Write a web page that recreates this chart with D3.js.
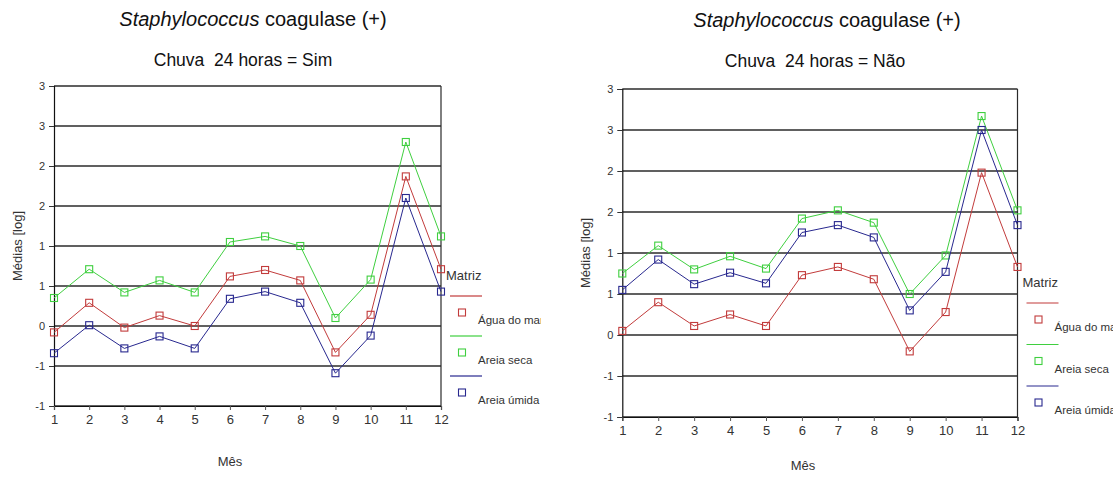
<!DOCTYPE html>
<html>
<head>
<meta charset="utf-8">
<script src="https://cdn.jsdelivr.net/npm/d3@7"></script>
<style>
  html, body { margin: 0; padding: 0; background: #fff; }
  svg { display: block; font-family: "Liberation Sans", Arial, sans-serif; }
</style>
</head>
<body>
<svg id="chart" width="1113" height="480"></svg>
<script>
// Months on the x axis
const months = [1, 2, 3, 4, 5, 6, 7, 8, 9, 10, 11, 12];
// Matrix series (legend order)
const seriesNames = ["Água do mar", "Areia seca", "Areia úmida"];
const seriesColors = ["#c23b3b", "#3fcf3f", "#28288f"];
// Y-axis tick values (log means)
const yTicks = [-1, -0.5, 0, 0.5, 1, 1.5, 2, 2.5, 3];

// Chuva 24 horas = Sim
const simAgua  = [-0.08, 0.29, -0.02, 0.13, 0.00, 0.62, 0.70, 0.57, -0.33, 0.14, 1.87, 0.71];
const simSeca  = [0.35, 0.71, 0.42, 0.57, 0.42, 1.05, 1.12, 1.00, 0.10, 0.58, 2.30, 1.12];
const simUmida = [-0.34, 0.01, -0.28, -0.13, -0.28, 0.34, 0.43, 0.29, -0.59, -0.12, 1.60, 0.43];

// Chuva 24 horas = Não
const naoAgua  = [0.05, 0.40, 0.11, 0.25, 0.11, 0.73, 0.83, 0.68, -0.20, 0.28, 1.98, 0.83];
const naoSeca  = [0.75, 1.09, 0.80, 0.96, 0.81, 1.42, 1.52, 1.37, 0.50, 0.97, 2.67, 1.52];
const naoUmida = [0.55, 0.92, 0.62, 0.76, 0.63, 1.25, 1.34, 1.19, 0.30, 0.77, 2.50, 1.34];

const panels = [
  { sub: "Chuva \u00a024 horas = Sim", series: [simAgua, simSeca, simUmida],
    x0: 54, x1: 441, yTop: 86, yBot: 406,
    titleX: 253, subX: 243, titleY: 26, subY: 66,
    yTitleX: 17, xTitleX: 230, xTitleY: 466,
    legTop: 280, legStep: 40, clipRight: 541 },
  { sub: "Chuva \u00a024 horas = Não", series: [naoAgua, naoSeca, naoUmida],
    x0: 622.3, x1: 1017.5, yTop: 89, yBot: 417,
    titleX: 827, subX: 815, titleY: 27, subY: 67,
    yTitleX: 585, xTitleX: 803, xTitleY: 470,
    legTop: 287, legStep: 41.5, clipRight: 1113 }
];

// Round half away from zero, plain hyphen minus
const fmt = v => {
  const r = Math.sign(v) * Math.round(Math.abs(v));
  return r === 0 ? "0" : String(r);
};

const svg = d3.select("#chart");

panels.forEach((p, pi) => {
  const g = svg.append("g");
  const x = d3.scaleLinear().domain([1, 12]).range([p.x0, p.x1]);
  const y = d3.scaleLinear().domain([-1, 3]).range([p.yBot, p.yTop]);

  // Titles
  const t = g.append("text").attr("x", p.titleX).attr("y", p.titleY)
    .attr("text-anchor", "middle").attr("font-size", 20).attr("fill", "#111");
  t.append("tspan").attr("font-style", "italic").text("Staphylococcus");
  t.append("tspan").text(" coagulase (+)");
  g.append("text").attr("x", p.subX).attr("y", p.subY)
    .attr("text-anchor", "middle").attr("font-size", 17.5).attr("fill", "#111")
    .text(p.sub);

  // Horizontal gridlines
  g.append("g").selectAll("line").data(yTicks).join("line")
    .attr("x1", p.x0).attr("x2", p.x1)
    .attr("y1", d => y(d)).attr("y2", d => y(d))
    .attr("stroke", "#2b2b2b").attr("stroke-width", 1.5);

  // Right border of the plot
  g.append("line").attr("x1", p.x1).attr("x2", p.x1)
    .attr("y1", p.yTop).attr("y2", p.yBot)
    .attr("stroke", "#2b2b2b").attr("stroke-width", 1.2);

  // Y axis
  const ya = g.append("g").attr("transform", `translate(${p.x0},0)`)
    .call(d3.axisLeft(y).tickValues(yTicks).tickFormat(fmt).tickSize(5).tickPadding(4));
  ya.select(".domain").attr("stroke", "#111").attr("stroke-width", 1.2);
  ya.selectAll(".tick line").attr("stroke", "#333");
  ya.selectAll(".tick text").attr("font-size", 11).attr("fill", "#333")
    .attr("font-family", "Liberation Sans, Arial, sans-serif");

  // X axis
  const xa = g.append("g").attr("transform", `translate(0,${p.yBot})`)
    .call(d3.axisBottom(x).tickValues(months).tickFormat(d3.format("d")).tickSize(4).tickPadding(5));
  xa.select(".domain").attr("stroke", "#111").attr("stroke-width", 1.2);
  xa.selectAll(".tick line").attr("stroke", "#555");
  xa.selectAll(".tick text").attr("font-size", 13).attr("fill", "#333")
    .attr("font-family", "Liberation Sans, Arial, sans-serif");

  // Axis titles
  g.append("text")
    .attr("transform", `translate(${p.yTitleX},${(p.yTop + p.yBot) / 2}) rotate(-90)`)
    .attr("text-anchor", "middle").attr("dy", "0.35em")
    .attr("font-size", 13).attr("fill", "#333").text("Médias [log]");
  g.append("text").attr("x", p.xTitleX).attr("y", p.xTitleY)
    .attr("text-anchor", "middle").attr("font-size", 13).attr("fill", "#333")
    .text("Mês");

  // Series lines and square markers
  const line = d3.line().x((d, i) => x(months[i])).y(d => y(d));
  p.series.forEach((vals, si) => {
    g.append("path").datum(vals).attr("d", line)
      .attr("fill", "none").attr("stroke", seriesColors[si]).attr("stroke-width", 1);
    g.append("g").selectAll("rect").data(vals).join("rect")
      .attr("x", (d, i) => x(months[i]) - 3.5).attr("y", d => y(d) - 3.5)
      .attr("width", 7).attr("height", 7)
      .attr("fill", "none").attr("stroke", seriesColors[si]).attr("stroke-width", 1.1);
  });

  // Legend (clipped at the panel edge)
  const clipId = "legclip" + pi;
  svg.append("clipPath").attr("id", clipId).append("rect")
    .attr("x", p.x1).attr("y", 0).attr("width", p.clipRight - p.x1).attr("height", 480);
  const lg = g.append("g").attr("clip-path", `url(#${clipId})`);
  const lx = p.x1 + 5;
  lg.append("text").attr("x", lx).attr("y", p.legTop)
    .attr("font-size", 13).attr("fill", "#333").text("Matriz");
  seriesNames.forEach((name, si) => {
    const ly = p.legTop + 16 + si * p.legStep;
    lg.append("line").attr("x1", lx + 4).attr("x2", lx + 36)
      .attr("y1", ly).attr("y2", ly)
      .attr("stroke", seriesColors[si]).attr("stroke-width", 1.2);
    lg.append("rect").attr("x", lx + 16 - 3.5).attr("y", ly + 16.5 - 3.5)
      .attr("width", 7).attr("height", 7)
      .attr("fill", "none").attr("stroke", seriesColors[si]).attr("stroke-width", 1.1);
    lg.append("text").attr("x", lx + 32).attr("y", ly + 28)
      .attr("font-size", 11.5).attr("fill", "#333").text(name);
  });
});
</script>
</body>
</html>
